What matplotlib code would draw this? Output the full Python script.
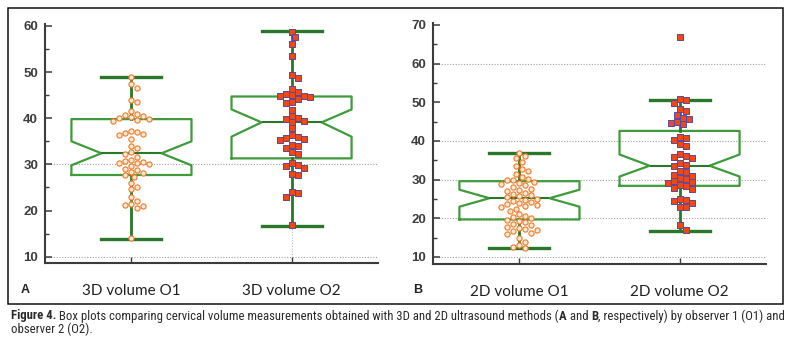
import matplotlib
matplotlib.use('Agg')
import matplotlib.pyplot as plt
from matplotlib.patches import Rectangle
from matplotlib import font_manager

W, H = 794, 343   # tamano final en pixeles

# Volumen cervical (mL) medido por cada observador
a_o1 = [49.0, 47.5, 46.5, 44.0, 43.5, 41.5, 41.0, 40.6, 40.4, 40.2, 40.0, 39.8, 39.6,
        39.4, 37.3, 37.0, 36.8, 36.6, 36.4, 35.5, 34.0, 33.5, 32.6, 32.3, 31.5, 31.0,
        30.8, 30.6, 30.4, 30.2, 30.0, 29.7, 29.0, 28.7, 28.4, 28.1, 27.6, 27.2, 26.0,
        25.0, 24.6, 23.0, 22.0, 21.5, 21.2, 20.9, 20.6, 14.0]
a_o2 = [58.7, 57.5, 56.0, 53.4, 49.3, 48.7, 46.4, 45.6, 45.3, 45.1, 44.9, 44.7, 44.5,
        44.2, 43.6, 43.3, 41.8, 40.5, 40.1, 39.8, 39.5, 39.2, 37.9, 36.4, 36.0, 35.8,
        35.5, 35.2, 34.3, 33.9, 33.6, 32.6, 32.3, 30.2, 29.9, 29.6, 29.3, 28.0, 27.7,
        24.0, 23.7, 23.0, 16.8]
b_o1 = [37.0, 36.2, 35.5, 34.5, 33.5, 32.7, 32.3, 31.5, 30.6, 30.2, 30.0, 29.8, 29.5,
        29.2, 29.0, 28.5, 28.0, 27.7, 27.3, 27.0, 26.6, 26.3, 26.0, 25.7, 25.4, 25.1,
        24.8, 24.5, 24.2, 24.0, 23.8, 23.5, 23.2, 23.0, 22.5, 22.0, 21.0, 20.6, 20.3,
        20.0, 19.6, 19.3, 19.0, 18.5, 18.2, 17.8, 17.5, 17.2, 17.0, 16.6, 16.3, 16.0,
        15.0, 14.0, 13.0, 12.5, 12.2]
b_o2 = [66.8, 50.9, 50.6, 49.7, 48.2, 47.8, 46.7, 46.0, 45.7, 44.8, 44.6, 44.3, 41.1,
        40.8, 40.3, 39.2, 38.8, 36.6, 36.1, 35.9, 35.7, 34.2, 33.9, 33.4, 32.3, 31.9,
        31.3, 31.0, 30.5, 30.2, 29.7, 29.4, 29.1, 28.7, 28.4, 27.9, 27.6, 24.9, 24.7,
        24.4, 23.9, 23.0, 22.8, 18.3, 17.0]

# (whislo, q1, cilo, med, cihi, q3, whishi) de cada caja
cajas_a = [(13.9, 27.7, 29.8, 32.4, 35.0, 39.8, 48.9),
           (16.7, 31.3, 36.0, 39.1, 41.9, 44.7, 58.8)]
cajas_b = [(12.2, 19.7, 23.0, 25.2, 27.4, 29.6, 36.9),
           (16.7, 28.4, 30.8, 33.6, 36.5, 42.6, 50.6)]

etiquetas_a = ['3D volume O1', '3D volume O2']
etiquetas_b = ['2D volume O1', '2D volume O2']
yticks_a = [10, 20, 30, 40, 50, 60]
yticks_b = [10, 20, 30, 40, 50, 60, 70]
grid_a = [10, 30]
grid_b = [10, 20, 30, 40, 60]

VERDE = '#2a762a'
VERDE_CLARO = '#3f9a3c'
GRIS = '#3c3c3c'


def ejes(fig, rect, ylim, yticks, grid, etiquetas, vgrid=None):
    ax = fig.add_axes(rect)
    ax.set_xlim(0.46, 2.54)
    ax.set_ylim(*ylim)
    ax.patch.set_alpha(0)
    for s in ['top', 'right']:
        ax.spines[s].set_visible(False)
    for s in ['left', 'bottom']:
        ax.spines[s].set_color(GRIS)
        ax.spines[s].set_linewidth(1.5)
    ax.set_yticks(yticks, [str(t) for t in yticks], fontweight='bold',
                  family='Liberation Sans')
    ax.set_yticks([t + 5 for t in yticks[:-1]], minor=True)
    ax.tick_params(axis='y', which='major', direction='in', length=5, width=1.1,
                   color=GRIS, pad=5, labelsize=9.5, labelcolor=GRIS)
    ax.tick_params(axis='y', which='minor', direction='in', length=3, width=1,
                   color=GRIS)
    ax.set_xticks([1, 2], etiquetas, family='Lato')
    ax.tick_params(axis='x', direction='in', length=4, width=1, color=GRIS,
                   pad=15, labelsize=11, labelcolor='#222222')
    for g in grid:  # lineas punteadas de referencia
        ax.axhline(g, color='#a0a0a0', lw=0.8, ls=(0, (1, 1.5)), zorder=0)
    if vgrid is not None:
        ax.axvline(vgrid, color='#b8b8b8', lw=0.8, ls=(0, (1, 1.5)), zorder=0)
    return ax


def cajas(ax, datos):
    stats = []
    for wl, q1, cl, md, ch, q3, wh in datos:
        stats.append(dict(whislo=wl, q1=q1, cilo=cl, med=md, cihi=ch, q3=q3,
                          whishi=wh, fliers=[]))
    ax.bxp(stats, positions=[1, 2], widths=0.75, capwidths=0.375,
           shownotches=True, showfliers=False, manage_ticks=False,
           boxprops=dict(color=VERDE_CLARO, lw=1.6),
           whiskerprops=dict(color=VERDE, lw=2.0),
           capprops=dict(color=VERDE, lw=2.4),
           medianprops=dict(color=VERDE, lw=1.5))


def enjambre(ax, valores, pos, dist=6.0):  # reparte los puntos sin que se tapen
    ys = ax.transData.transform([(pos, v) for v in valores])[:, 1]
    x0, x1 = ax.transData.transform([(0, 0), (1, 0)])[:, 0]
    upx = x1 - x0
    puestos = []
    xs = []
    for y in ys:
        for k in range(80):
            off = ((k + 1) // 2) * (1 if k % 2 else -1) * dist * 0.5
            if all((off - a) ** 2 + (y - b) ** 2 >= dist ** 2 for a, b in puestos):
                break
        puestos.append((off, y))
        xs.append(pos + off / upx)
    return xs


def puntos(ax, v1, v2):
    ax.scatter(enjambre(ax, v1, 1), v1, s=14, marker='o', facecolor='#fde6cc',
               edgecolor='#ee7a2a', linewidth=0.8, zorder=5)
    ax.scatter(enjambre(ax, v2, 2), v2, s=15, marker='s', facecolor='#ea4a1a',
               edgecolor='#5a48a0', linewidth=0.7, zorder=5)


def ancho(fig, r, txt, **kw):
    t = fig.text(0, 0, txt + '|', **kw)
    w1 = t.get_window_extent(renderer=r).width
    t.remove()
    t = fig.text(0, 0, '|', **kw)
    w2 = t.get_window_extent(renderer=r).width
    t.remove()
    return w1 - w2


def linea(fig, r, x, y, trozos, size, fam, stretch):
    for txt, peso in trozos:
        kw = dict(fontsize=size, fontweight=peso, family=fam, color='#2a2a2a',
                  fontstretch=stretch)
        fig.text(x / W, 1 - y / H, txt, va='center', ha='left', **kw)
        x += ancho(fig, r, txt, **kw)


def fuente_estrecha():  # primera familia estrecha que este instalada
    for fam, st in [('Liberation Sans Narrow', 'normal'), ('Roboto Condensed', 'normal'),
                    ('Open Sans Condensed', 'normal'), ('DejaVu Sans', 'condensed')]:
        try:
            ruta = font_manager.findfont(font_manager.FontProperties(family=fam, stretch=st),
                                         fallback_to_default=False)
        except ValueError:
            continue
        if st == 'normal' or 'Condensed' in ruta:
            return fam, st
    return 'Liberation Sans', 'normal'


def main():
    fig = plt.figure(figsize=(W / 100, H / 100), dpi=100)
    r = fig.canvas.get_renderer()

    ax_a = ejes(fig, [45 / W, (H - 263) / H, 333 / W, (263 - 24) / H],
                (8.64, 60.4), yticks_a, grid_a, etiquetas_a, vgrid=2)
    cajas(ax_a, cajas_a)
    puntos(ax_a, a_o1, a_o2)

    ax_b = ejes(fig, [433 / W, (H - 264.3) / H, 333 / W, (264.3 - 23) / H],
                (8.11, 70.5), yticks_b, grid_b, etiquetas_b)
    cajas(ax_b, cajas_b)
    puntos(ax_b, b_o1, b_o2)

    fig.text(25 / W, 1 - 290 / H, 'A', fontsize=9, fontweight='bold',
             family='Liberation Sans', ha='center', va='center', color='#222222')
    fig.text(418 / W, 1 - 290 / H, 'B', fontsize=9, fontweight='bold',
             family='Liberation Sans', ha='center', va='center', color='#222222')

    # marco de la figura
    fig.add_artist(Rectangle((8 / W, 1 - 303.5 / H), 774.5 / W, 295.5 / H,
                             transform=fig.transFigure, fill=False,
                             ec='#111111', lw=1.1))

    # pie de figura
    fam, st = fuente_estrecha()
    l1 = [('Figure 4.', 'bold'),
          (' Box plots comparing cervical volume measurements obtained with 3D and '
           '2D ultrasound methods (', 'normal'),
          ('A', 'bold'), (' and ', 'normal'), ('B', 'bold'),
          (', respectively) by observer 1 (O1) and', 'normal')]
    l2 = [('observer 2 (O2).', 'normal')]
    total = sum(ancho(fig, r, t, fontsize=10, fontweight=p, family=fam, fontstretch=st)
                for t, p in l1)
    size = 10 * 773 / total
    linea(fig, r, 11, 316, l1, size, fam, st)
    linea(fig, r, 11, 329.5, l2, size, fam, st)

    fig.savefig('out.png', dpi=100)


if __name__ == '__main__':
    main()
